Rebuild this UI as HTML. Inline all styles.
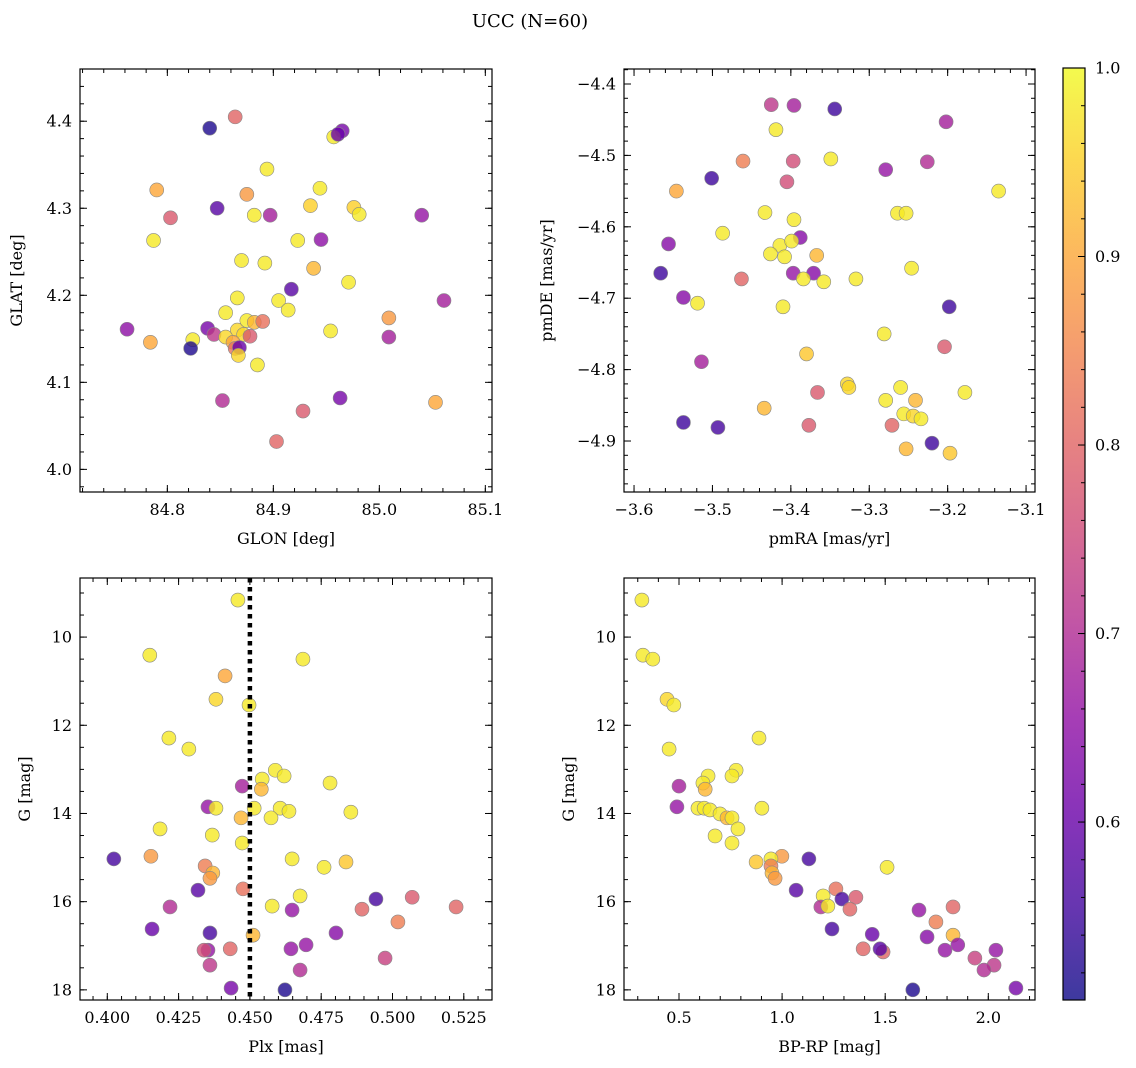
<!DOCTYPE html>
<html><head><meta charset="utf-8">
<style>
html,body{margin:0;padding:0;background:#fff;}
svg{display:block;font-family:"DejaVu Serif","Liberation Serif",serif;}
</style></head>
<body>
<svg id="fig" width="1136" height="1068" viewBox="0 0 1136 1068">
<text x="530" y="27" font-size="18" text-anchor="middle">UCC (N=60)</text>
</svg>
<script>
// ---------- Panel 1: GLON / GLAT ----------
const p1Glon=[84.840,84.864,84.965,84.957,84.961,84.790,84.847,84.803,84.875,84.894,84.935,84.944,84.882,84.897,84.923,84.945,84.976,84.981,85.040,84.787,84.870,84.892,84.938,84.971,84.917,84.866,84.905,84.914,84.855,85.061,84.762,84.838,84.844,84.866,84.872,84.875,84.882,84.890,84.878,84.855,84.862,84.864,84.824,84.822,84.784,84.954,85.009,85.009,84.868,84.867,84.885,84.852,84.963,85.053,84.928,84.903];
const p1Glat=[4.392,4.405,4.389,4.382,4.385,4.321,4.300,4.289,4.316,4.345,4.303,4.323,4.292,4.292,4.263,4.264,4.301,4.293,4.292,4.263,4.240,4.237,4.231,4.215,4.207,4.197,4.194,4.183,4.180,4.194,4.161,4.162,4.155,4.160,4.155,4.171,4.169,4.170,4.153,4.152,4.146,4.139,4.149,4.139,4.146,4.159,4.174,4.152,4.140,4.131,4.120,4.079,4.082,4.077,4.067,4.032];
const p1Prob=[0.52,0.80,0.62,0.98,0.60,0.90,0.58,0.78,0.88,0.98,0.95,0.98,0.98,0.68,0.98,0.65,0.95,0.98,0.66,0.98,0.98,0.98,0.92,0.98,0.58,0.98,0.98,0.98,0.98,0.68,0.65,0.62,0.72,0.96,0.96,0.98,0.92,0.82,0.78,0.96,0.90,0.82,0.98,0.52,0.90,0.98,0.88,0.68,0.60,0.96,0.98,0.70,0.62,0.90,0.78,0.80];
const p1XTicks=[84.8,84.9,85.0,85.1];
const p1XLabels=["84.8","84.9","85.0","85.1"];
const p1YTicks=[4.0,4.1,4.2,4.3,4.4];
const p1YLabels=["4.0","4.1","4.2","4.3","4.4"];

// ---------- Panel 2: pmRA / pmDE ----------
const p2PmRA=[-3.425,-3.396,-3.344,-3.202,-3.419,-3.349,-3.461,-3.397,-3.226,-3.501,-3.546,-3.135,-3.279,-3.405,-3.433,-3.264,-3.253,-3.396,-3.487,-3.388,-3.556,-3.414,-3.399,-3.426,-3.408,-3.367,-3.566,-3.397,-3.371,-3.246,-3.463,-3.384,-3.358,-3.317,-3.537,-3.519,-3.410,-3.198,-3.204,-3.281,-3.380,-3.514,-3.178,-3.328,-3.326,-3.366,-3.279,-3.260,-3.241,-3.256,-3.244,-3.234,-3.537,-3.493,-3.377,-3.434,-3.271,-3.220,-3.253,-3.197];
const p2PmDE=[-4.429,-4.430,-4.435,-4.453,-4.464,-4.505,-4.508,-4.508,-4.509,-4.532,-4.550,-4.550,-4.520,-4.537,-4.580,-4.581,-4.581,-4.590,-4.609,-4.615,-4.624,-4.626,-4.620,-4.638,-4.642,-4.640,-4.665,-4.665,-4.665,-4.658,-4.673,-4.673,-4.677,-4.673,-4.699,-4.707,-4.712,-4.712,-4.768,-4.750,-4.778,-4.789,-4.832,-4.820,-4.825,-4.832,-4.843,-4.825,-4.843,-4.862,-4.865,-4.869,-4.874,-4.881,-4.878,-4.854,-4.878,-4.903,-4.911,-4.917];
const p2Prob=[0.72,0.68,0.55,0.68,0.98,0.98,0.84,0.76,0.70,0.55,0.90,0.98,0.66,0.76,0.98,0.98,0.98,0.98,0.98,0.64,0.64,0.98,0.98,0.98,0.98,0.92,0.55,0.66,0.64,0.98,0.80,0.98,0.98,0.98,0.64,0.98,0.98,0.55,0.78,0.98,0.94,0.68,0.98,0.96,0.96,0.78,0.98,0.98,0.92,0.98,0.96,0.98,0.55,0.56,0.78,0.92,0.80,0.55,0.92,0.94];
const p2XTicks=[-3.6,-3.5,-3.4,-3.3,-3.2,-3.1];
const p2XLabels=["\u22123.6","\u22123.5","\u22123.4","\u22123.3","\u22123.2","\u22123.1"];
const p2YTicks=[-4.9,-4.8,-4.7,-4.6,-4.5,-4.4];
const p2YLabels=["\u22124.9","\u22124.8","\u22124.7","\u22124.6","\u22124.5","\u22124.4"];

// ---------- Panel 3: Plx / G ----------
const p3Plx=[0.4458,0.4149,0.4686,0.4413,0.4381,0.4497,0.4216,0.4286,0.4589,0.4620,0.4781,0.4473,0.4543,0.4540,0.4353,0.4381,0.4515,0.4606,0.4637,0.4854,0.4469,0.4574,0.4185,0.4368,0.4473,0.4023,0.4153,0.4648,0.4760,0.4837,0.4343,0.4370,0.4360,0.4318,0.4476,0.4676,0.4942,0.5069,0.4220,0.4578,0.4648,0.4893,0.5223,0.5019,0.4157,0.4360,0.4511,0.4802,0.4697,0.4353,0.4431,0.4644,0.4974,0.4360,0.4676,0.4434,0.4623,0.4339];
const p3G=[9.16,10.41,10.50,10.88,11.41,11.54,12.29,12.54,13.02,13.15,13.31,13.38,13.22,13.45,13.85,13.88,13.88,13.88,13.95,13.97,14.10,14.10,14.35,14.49,14.67,15.03,14.97,15.03,15.22,15.10,15.19,15.35,15.47,15.74,15.71,15.87,15.94,15.90,16.12,16.10,16.19,16.17,16.12,16.46,16.62,16.71,16.76,16.71,16.98,17.10,17.07,17.07,17.28,17.44,17.55,17.96,18.00,17.10];
const p3Prob=[0.98,0.98,0.98,0.90,0.96,0.98,0.98,0.98,0.98,0.98,0.98,0.68,0.98,0.92,0.66,0.98,0.98,0.98,0.98,0.98,0.92,0.98,0.98,0.98,0.98,0.56,0.88,0.98,0.98,0.94,0.84,0.92,0.88,0.58,0.82,0.98,0.56,0.78,0.70,0.98,0.66,0.80,0.80,0.84,0.60,0.56,0.92,0.64,0.66,0.66,0.80,0.66,0.74,0.72,0.70,0.62,0.52,0.76];
const p3XTicks=[0.400,0.425,0.450,0.475,0.500,0.525];
const p3XLabels=["0.400","0.425","0.450","0.475","0.500","0.525"];
const gTicks=[10,12,14,16,18];
const gLabels=["10","12","14","16","18"];
const plxLine=[0.450];

// ---------- Panel 4: BP-RP / G ----------
const p4BpRp=[0.320,0.325,0.373,0.442,0.475,0.888,0.452,0.777,0.757,0.500,0.641,0.616,0.627,0.490,0.592,0.622,0.902,0.650,0.699,0.733,0.757,0.786,0.675,0.757,1.130,0.999,0.946,1.509,0.874,0.946,0.951,0.966,1.068,1.261,1.199,1.290,1.358,1.188,1.222,1.664,1.329,1.829,1.746,1.437,1.242,1.829,1.703,1.852,1.393,1.490,1.475,1.790,2.037,1.935,2.028,1.979,2.134,1.634];
const p4G=[9.16,10.41,10.50,11.41,11.54,12.29,12.54,13.02,13.15,13.38,13.15,13.31,13.45,13.85,13.88,13.88,13.88,13.92,14.01,14.10,14.10,14.35,14.51,14.67,15.03,14.97,15.03,15.22,15.10,15.19,15.35,15.47,15.74,15.71,15.87,15.94,15.90,16.12,16.10,16.19,16.17,16.12,16.46,16.74,16.62,16.76,16.80,16.98,17.07,17.14,17.07,17.10,17.10,17.28,17.44,17.55,17.96,18.00];
const p4Prob=[0.98,0.98,0.98,0.96,0.98,0.98,0.98,0.98,0.98,0.68,0.98,0.98,0.92,0.66,0.98,0.98,0.98,0.98,0.98,0.92,0.98,0.98,0.98,0.98,0.56,0.88,0.98,0.98,0.94,0.84,0.92,0.88,0.58,0.82,0.98,0.56,0.78,0.70,0.98,0.66,0.80,0.80,0.84,0.60,0.56,0.92,0.64,0.66,0.80,0.80,0.58,0.66,0.66,0.74,0.72,0.70,0.62,0.52];
const p4XTicks=[0.5,1.0,1.5,2.0];
const p4XLabels=["0.5","1.0","1.5","2.0"];

// ---------- Colorbar ----------
const cbTicks=[0.6,0.7,0.8,0.9,1.0];
const cbLabels=["0.6","0.7","0.8","0.9","1.0"];
const cbMin=0.5056, cbMax=1.0;

const NS="http://www.w3.org/2000/svg";
const svg=document.getElementById('fig');
function mk(tag,attrs,parent){const e=document.createElementNS(NS,tag);for(const k in attrs)e.setAttribute(k,attrs[k]);(parent||svg).appendChild(e);return e;}

const plasma=[[13,8,135],[65,4,157],[106,0,168],[143,13,164],[177,42,144],[204,71,120],[225,100,98],[242,132,75],[252,166,54],[252,206,37],[240,249,33]];
function cmap(v){let t=(v-cbMin)/(cbMax-cbMin);t=Math.max(0,Math.min(1,t))*10;const i=Math.min(9,Math.floor(t)),f=t-i;const a=plasma[i],b=plasma[i+1];
 return `rgb(${Math.round(a[0]+(b[0]-a[0])*f)},${Math.round(a[1]+(b[1]-a[1])*f)},${Math.round(a[2]+(b[2]-a[2])*f)})`;}

function panel(o){
 const g=mk('g',{});
 
 
 const sx=v=>o.x0+(v-o.xmin)/(o.xmax-o.xmin)*(o.x1-o.x0);
 const sy=o.yinv? v=>o.y0+(v-o.ymin)/(o.ymax-o.ymin)*(o.y1-o.y0) : v=>o.y1-(v-o.ymin)/(o.ymax-o.ymin)*(o.y1-o.y0);
 for(let i=0;i<o.xs.length;i++){
  const c=mk('circle',{cx:sx(o.xs[i]),cy:sy(o.ys[i]),r:7,fill:cmap(o.cs[i]),'fill-opacity':0.8,stroke:'#888','stroke-width':0.6},g);
  
  
 }
 if(o.vline){for(const v of o.vline){const l=mk('line',{x1:sx(v),x2:sx(v),y1:o.y0,y2:o.y1,stroke:'#000','stroke-width':4.5,'stroke-dasharray':'4.5,4.5'},g);
  
  }}
 const fr=mk('rect',{x:o.x0,y:o.y0,width:o.x1-o.x0,height:o.y1-o.y0,fill:'none',stroke:'#000','stroke-width':1.2},g);
 
 
 const tk=(x1,y1,x2,y2)=>mk('line',{x1,y1,x2,y2,stroke:'#000','stroke-width':1},g);
 o.xt.forEach((v,i)=>{const x=sx(v);tk(x,o.y1,x,o.y1-7);tk(x,o.y0,x,o.y0+7);
  const t=mk('text',{x,y:o.y1+23,'font-size':16,'text-anchor':'middle'},g);t.textContent=o.xl[i];
  
  });
 for(let v=o.xmstart;v<=o.xmax+1e-9;v+=o.xminor){if(v<o.xmin)continue;const x=sx(v);tk(x,o.y1,x,o.y1-4);tk(x,o.y0,x,o.y0+4);}
 o.yt.forEach((v,i)=>{const y=sy(v);tk(o.x0,y,o.x0+7,y);tk(o.x1,y,o.x1-7,y);
  const t=mk('text',{x:o.x0-8,y:y+5.5,'font-size':16,'text-anchor':'end'},g);t.textContent=o.yl[i];
  
  });
 for(let v=o.ymstart;v<=Math.max(o.ymax,o.ymin)+1e-9;v+=o.yminor){const y=sy(v);if(y<o.y0-0.5||y>o.y1+0.5)continue;tk(o.x0,y,o.x0+4,y);tk(o.x1,y,o.x1-4,y);}
 const xlab=mk('text',{x:(o.x0+o.x1)/2,y:o.y1+52,'font-size':16,'text-anchor':'middle'},g);xlab.textContent=o.xlabel;
 
 
 const ylab=mk('text',{x:0,y:0,'font-size':16,'text-anchor':'middle',transform:`translate(${o.ylx},${(o.y0+o.y1)/2}) rotate(-90)`},g);ylab.textContent=o.ylabel;
 
 
}

panel({name:'glon-glat-panel',x0:80,x1:492,y0:69,y1:492,xmin:84.7176,xmax:85.1063,ymin:3.974,ymax:4.46,xs:p1Glon,ys:p1Glat,cs:p1Prob,
 xt:p1XTicks,xl:p1XLabels,yt:p1YTicks,yl:p1YLabels,xminor:0.02,xmstart:84.72,yminor:0.02,ymstart:3.98,xlabel:'GLON [deg]',ylabel:'GLAT [deg]',ylx:22});
panel({name:'proper-motion-panel',x0:624,x1:1035,y0:69,y1:492,xmin:-3.6128,xmax:-3.0886,ymin:-4.9714,ymax:-4.379,xs:p2PmRA,ys:p2PmDE,cs:p2Prob,
 xt:p2XTicks,xl:p2XLabels,yt:p2YTicks,yl:p2YLabels,xminor:0.02,xmstart:-3.6,yminor:0.02,ymstart:-4.96,xlabel:'pmRA [mas/yr]',ylabel:'pmDE [mas/yr]',ylx:552});
panel({name:'parallax-magnitude-panel',x0:80,x1:492,y0:578,y1:1000,xmin:0.39043,xmax:0.53489,ymin:8.66,ymax:18.23,yinv:true,xs:p3Plx,ys:p3G,cs:p3Prob,
 xt:p3XTicks,xl:p3XLabels,yt:gTicks,yl:gLabels,xminor:0.005,xmstart:0.395,yminor:0.5,ymstart:9,xlabel:'Plx [mas]',ylabel:'G [mag]',ylx:30,vline:plxLine});
panel({name:'color-magnitude-panel',x0:624,x1:1035,y0:578,y1:1000,xmin:0.2333,xmax:2.2265,ymin:8.66,ymax:18.23,yinv:true,xs:p4BpRp,ys:p4G,cs:p4Prob,
 xt:p4XTicks,xl:p4XLabels,yt:gTicks,yl:gLabels,xminor:0.1,xmstart:0.3,yminor:0.5,ymstart:9,xlabel:'BP-RP [mag]',ylabel:'G [mag]',ylx:574});

(function(){
 const x0=1063,x1=1085,y0=68,y1=1000;
 const defs=mk('defs',{});
 const lg=mk('linearGradient',{id:'cbg',x1:0,y1:1,x2:0,y2:0},defs);
 plasma.forEach((c,i)=>mk('stop',{offset:(i/10),'stop-color':`rgb(${c[0]},${c[1]},${c[2]})`},lg));
 const r=mk('rect',{x:x0,y:y0,width:x1-x0,height:y1-y0,fill:'url(#cbg)','fill-opacity':0.8});
 
 
 mk('rect',{x:x0,y:y0,width:x1-x0,height:y1-y0,fill:'none',stroke:'#000','stroke-width':1.2});
 const sy=v=>y1-(v-cbMin)/(cbMax-cbMin)*(y1-y0);
 cbTicks.forEach((v,i)=>{const y=sy(v);mk('line',{x1:x1,x2:x1-7,y1:y,y2:y,stroke:'#000','stroke-width':1});
  const t=mk('text',{x:x1+10,y:y+5.5,'font-size':16});t.textContent=cbLabels[i];
  
  });
 for(let v=0.52;v<=1.0001;v+=0.02){mk('line',{x1:x1,x2:x1-4,y1:sy(v),y2:sy(v),stroke:'#000','stroke-width':1});}
})();
</script>
</body></html>
